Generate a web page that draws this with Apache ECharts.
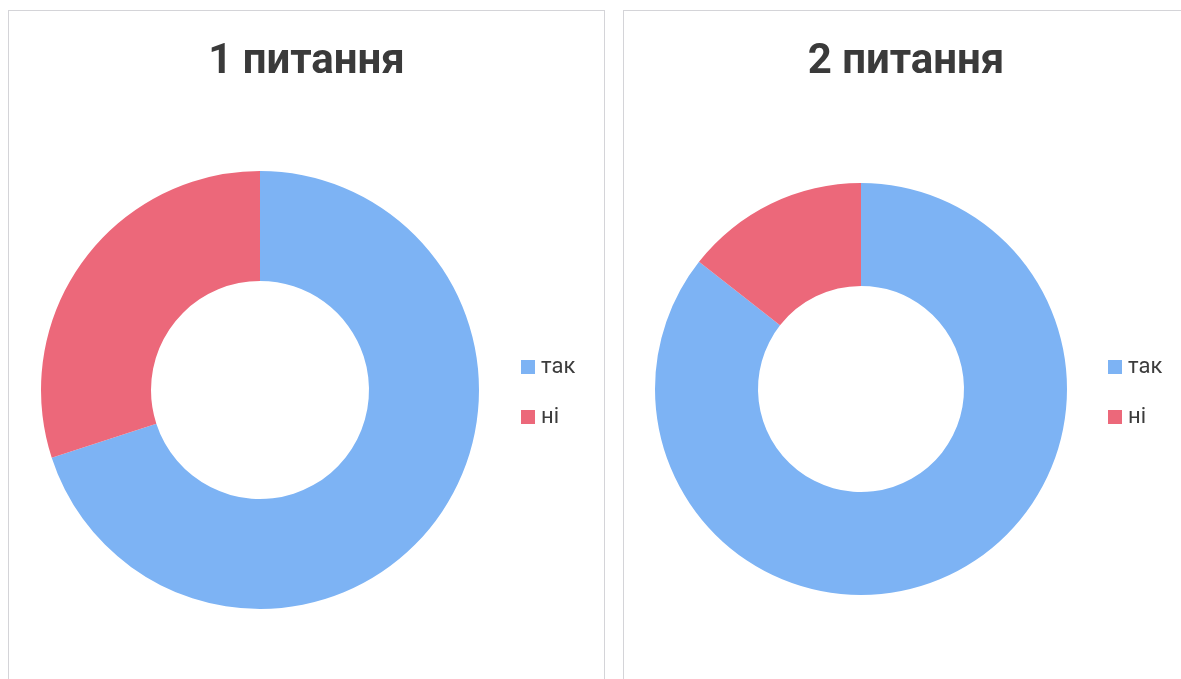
<!DOCTYPE html>
<html>
<head>
<meta charset="utf-8">
<script src="https://cdn.jsdelivr.net/npm/echarts@6/dist/echarts.min.js"></script>
<style>
  html, body { margin: 0; padding: 0; background: #fff; overflow: hidden; }
  body { width: 1181px; height: 679px; position: relative; }
  .panel { position: absolute; top: 10px; height: 700px; border: 1px solid #d4d4d8; box-sizing: border-box; }
  #p1 { left: 8px; width: 597px; }
  #p2 { left: 623px; width: 566px; }
  .chart { width: 100%; height: 100%; }
</style>
</head>
<body>
<div class="panel" id="p1"><div class="chart" id="c1"></div></div>
<div class="panel" id="p2"><div class="chart" id="c2"></div></div>
<script>
const categories = ['так', 'ні'];
const titles = ['1 питання', '2 питання'];
const q1Values = [70, 30];
const q2Values = [85.6, 14.4];

const colors = ['#7DB3F4', '#EC687A'];

// layout for each panel (px inside the panel)
const layouts = [
  { center: [251, 379], radius: [109, 219], legendLeft: 507 },
  { center: [237, 378], radius: [103, 206], legendLeft: 479 }
];

function makeOption(title, values, layout) {
  return {
    animation: false,
    textStyle: { fontFamily: 'Roboto, "Open Sans", sans-serif' },
    title: {
      text: title,
      left: 'center',
      top: 25,
      textStyle: {
        fontFamily: 'Roboto, sans-serif',
        fontSize: 42,
        fontWeight: 'bold',
        color: '#3a3a3a'
      }
    },
    legend: {
      orient: 'vertical',
      left: layout.legendLeft,
      top: 340,
      icon: 'rect',
      itemWidth: 14,
      itemHeight: 14,
      itemGap: 28,
      selectedMode: false,
      textStyle: { fontSize: 22, color: '#3c3c3c', padding: [0, 0, 0, 1] },
      data: categories
    },
    series: [
      {
        type: 'pie',
        center: layout.center,
        radius: layout.radius,
        startAngle: 90,
        clockwise: true,
        label: { show: false },
        labelLine: { show: false },
        emphasis: { disabled: true },
        itemStyle: { borderWidth: 0 },
        data: categories.map((name, i) => ({
          name: name,
          value: values[i],
          itemStyle: { color: colors[i] }
        }))
      }
    ]
  };
}

const c1 = echarts.init(document.getElementById('c1'));
c1.setOption(makeOption(titles[0], q1Values, layouts[0]));

const c2 = echarts.init(document.getElementById('c2'));
c2.setOption(makeOption(titles[1], q2Values, layouts[1]));
</script>
</body>
</html>
